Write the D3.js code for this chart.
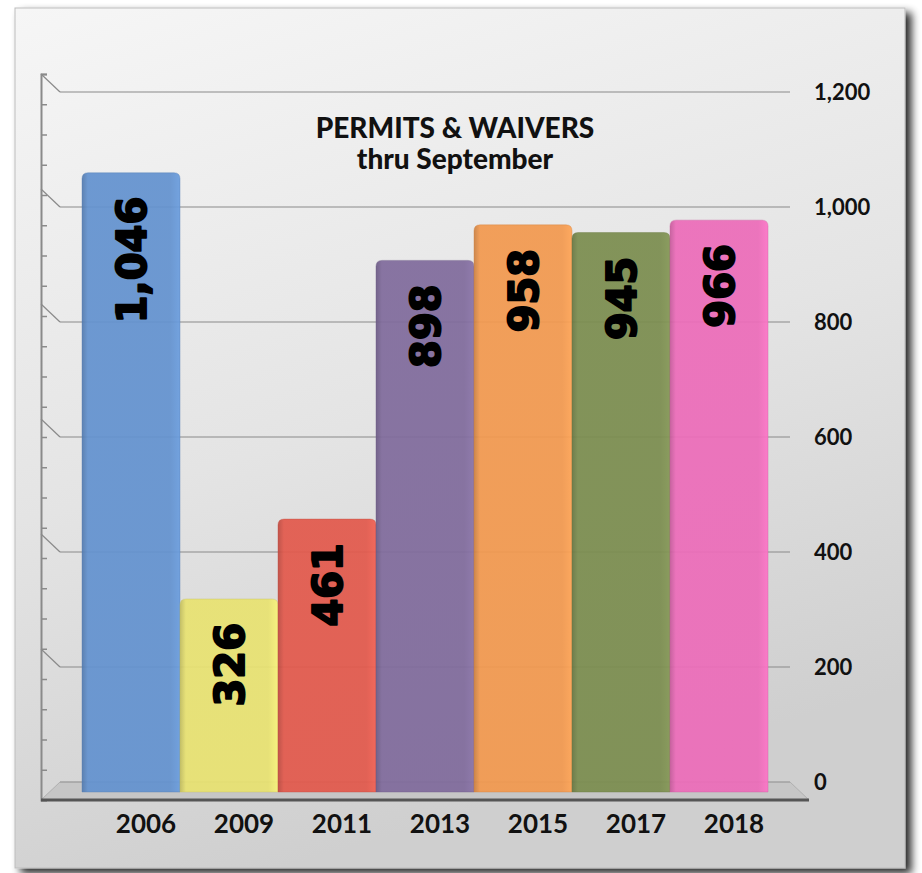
<!DOCTYPE html>
<html><head><meta charset="utf-8">
<script src="https://cdn.jsdelivr.net/npm/d3@7"></script>
<style>body{margin:0;background:#fff;}svg{display:block;}</style>
</head><body>
<script>
const categories = ["2006","2009","2011","2013","2015","2017","2018"];
const values = [1046, 326, 461, 898, 958, 945, 966];
const colors = ["#6392cf","#e8e271","#e2594c","#806b9c","#f2994f","#7b8d4f","#ec6cb9"];
const yTicks = [0, 200, 400, 600, 800, 1000, 1200];
const titleLines = ["PERMITS & WAIVERS", "thru September"];

const W = 922, H = 873;
const svg = d3.select("body").append("svg").attr("width", W).attr("height", H);
const defs = svg.append("defs");

// panel gradient
const pg = defs.append("linearGradient").attr("id","panelG").attr("x1","0").attr("y1","0").attr("x2","0.3").attr("y2","1");
pg.append("stop").attr("offset","0").attr("stop-color","#f6f6f6");
pg.append("stop").attr("offset","0.55").attr("stop-color","#e4e4e4");
pg.append("stop").attr("offset","1").attr("stop-color","#cfcfcf");
const sh = defs.append("filter").attr("id","shadow").attr("x","-5%").attr("y","-5%").attr("width","115%").attr("height","115%");
sh.append("feGaussianBlur").attr("in","SourceAlpha").attr("stdDeviation","4");
sh.append("feOffset").attr("dx","6").attr("dy","5").attr("result","b");
sh.append("feComponentTransfer").append("feFuncA").attr("type","linear").attr("slope","0.85");
const fm = sh.append("feMerge"); fm.append("feMergeNode"); fm.append("feMergeNode").attr("in","SourceGraphic");

svg.append("rect").attr("x",15).attr("y",8).attr("width",890).attr("height",860)
  .attr("fill","url(#panelG)").attr("stroke","#bdbdbd").attr("stroke-width",1).attr("filter","url(#shadow)");

// scales
const x = d3.scaleBand().domain(categories).range([82, 768]).padding(0);
const yWall = d3.scaleLinear().domain([0, 1200]).range([782, 92]);
const yBar = d3.scaleLinear().domain([0, 1200]).range([792, 81.6]);
const depthX = 19, depthY = 18;
const wallLeft = 60, wallRight = 790;

// floor
svg.append("path")
  .attr("d", `M${wallLeft - depthX},${yWall(0)+depthY} L${wallLeft},${yWall(0)} L${wallRight},${yWall(0)} L${wallRight+depthX},${yWall(0)+depthY} Z`)
  .attr("fill","#c6c6c6").attr("stroke","#b0b0b0").attr("stroke-width",1);

// gridlines with left wall diagonals
const grid = svg.append("g");
grid.selectAll("line.g").data(yTicks).join("line").attr("class","g")
  .attr("x1", wallLeft).attr("x2", wallRight)
  .attr("y1", d => yWall(d)).attr("y2", d => yWall(d))
  .attr("stroke", d => d === 0 ? "#9a9a9a" : "#8a8a8a").attr("stroke-width", 1.2);
grid.selectAll("line.d").data(yTicks.filter(d => d > 0)).join("line").attr("class","d")
  .attr("x1", wallLeft - depthX).attr("x2", wallLeft)
  .attr("y1", d => yWall(d) - depthY).attr("y2", d => yWall(d))
  .attr("stroke","#8a8a8a").attr("stroke-width",1.2);

// left axis (front plane)
const yLeft = d3.scaleLinear().domain([0, 1200]).range([yWall(0)+depthY, yWall(1200)-depthY]);
const leftAxis = svg.append("g").attr("transform", `translate(${wallLeft-depthX},0)`)
  .call(d3.axisRight(yLeft).ticks(30).tickSize(6).tickFormat(""));
leftAxis.select(".domain").attr("stroke","#8a8a8a").attr("stroke-width",2);
leftAxis.selectAll(".tick line").attr("stroke","#8a8a8a").attr("stroke-width",1.5);

// bars
categories.forEach((c, i) => {
  const g = defs.append("linearGradient").attr("id","bg"+i).attr("x1","0").attr("x2","1").attr("y1","0").attr("y2","0");
  const base = d3.color(colors[i]);
  g.append("stop").attr("offset","0").attr("stop-color", base.darker(0.5));
  g.append("stop").attr("offset","0.06").attr("stop-color", base);
  g.append("stop").attr("offset","0.9").attr("stop-color", base);
  g.append("stop").attr("offset","1").attr("stop-color", base.brighter(0.2));
});
svg.append("g").selectAll("path").data(values).join("path")
  .attr("d", (d, i) => {
    const x0 = x(categories[i]), x1 = x0 + x.bandwidth(), y0 = yBar(d), yb = yBar(0), r = 6;
    return `M${x0},${yb} L${x0},${y0+r} Q${x0},${y0} ${x0+r},${y0} L${x1-r},${y0} Q${x1},${y0} ${x1},${y0+r} L${x1},${yb} Z`;
  })
  .attr("fill", (d, i) => `url(#bg${i})`).attr("fill-opacity", 0.93)
  .attr("stroke", (d, i) => d3.color(colors[i]).darker(0.4)).attr("stroke-opacity",0.4).attr("stroke-width",1);

// front floor edge
svg.append("line").attr("x1", wallLeft - depthX).attr("x2", wallRight + depthX)
  .attr("y1", yWall(0)+depthY).attr("y2", yWall(0)+depthY)
  .attr("stroke","#555").attr("stroke-width",3);

// data labels
const fmt = d3.format(",");
svg.append("g").selectAll("text").data(values).join("text")
  .attr("transform", (d, i) => `translate(${x(categories[i]) + x.bandwidth()/2 + 15},${yBar(d) + 24}) rotate(-90)`)
  .attr("text-anchor","end")
  .attr("font-family","'DejaVu Sans', sans-serif").attr("font-weight","bold").attr("font-size","40px")
  .attr("fill","#000").attr("stroke","#000").attr("stroke-width",2).attr("stroke-linejoin","round")
  .text(d => fmt(d));

// category labels
svg.append("g").selectAll("text").data(categories).join("text")
  .attr("x", d => x(d) + x.bandwidth()/2 + 15).attr("y", 833)
  .attr("text-anchor","middle")
  .attr("font-family","Lato, 'Open Sans', sans-serif").attr("font-weight","bold").attr("font-size","26px")
  .attr("fill","#111").text(d => d);

// right value axis labels
svg.append("g").selectAll("text").data(yTicks).join("text")
  .attr("x", 814).attr("y", d => yWall(d) + 8)
  .attr("font-family","Lato, 'Open Sans', sans-serif").attr("font-weight","bold").attr("font-size","22px")
  .attr("fill","#111").text(d => fmt(d));

// title
svg.append("g").selectAll("text").data(titleLines).join("text")
  .attr("x", 455).attr("y", (d, i) => 138 + i * 31)
  .attr("text-anchor","middle")
  .attr("font-family","Lato, 'Open Sans', sans-serif").attr("font-weight","900").attr("font-size","28px")
  .attr("fill","#111").text(d => d);
</script>
</body></html>
